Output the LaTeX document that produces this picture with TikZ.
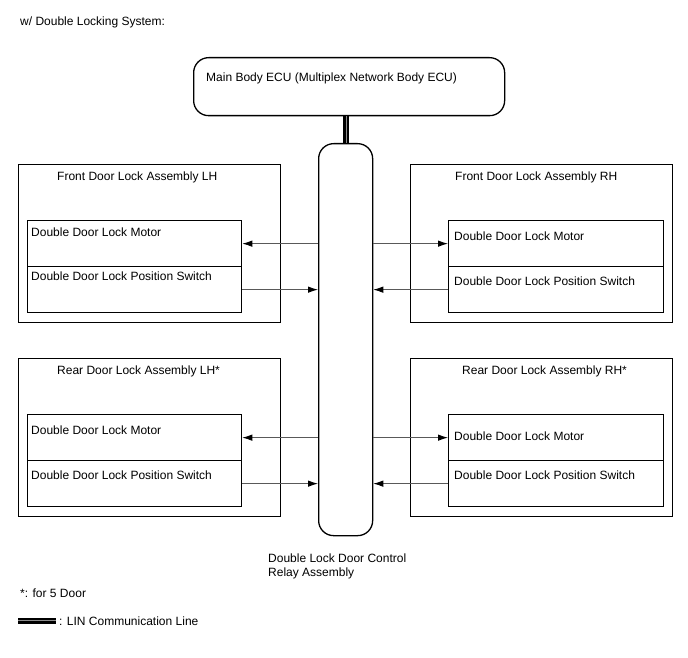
\documentclass[tikz,border=0pt]{standalone}
\usepackage{fontspec}
\setmainfont{Liberation Sans}
\usetikzlibrary{arrows.meta}
\begin{document}
\begin{tikzpicture}[x=1pt,y=-1pt,
  every node/.style={font=\fontsize{12}{14}\selectfont, inner sep=0pt},
  box/.style={draw=black, line width=1.3pt, anchor=north west, rectangle},
  outerbox/.style={box, minimum width=262pt, minimum height=158pt},
  innerbox/.style={box, minimum height=46pt},
  txt/.style={anchor=base west, align=left},
  arr/.style={draw=black!65, line width=0.9pt, -{Latex[length=10pt,width=6.5pt,black]}},
  rbox/.style={draw=black, line width=1.3pt, rounded corners=15pt, anchor=north west}
]
\useasboundingbox (0,0) rectangle (688,658);
\fill[white] (0,0) rectangle (688,658);

\node[txt] (title) at (20,26) {w/ Double Locking System:};

% ECU
\node[rbox, minimum width=311pt, minimum height=58pt] (ecu) at (193,57) {};
\node[txt] (ecut) at (206,82) {Main Body ECU (Multiplex Network Body ECU)};

% Relay
\node[rbox, minimum width=54pt, minimum height=392pt] (relay) at (318,143) {};
\node[anchor=north west, align=left] (relayt) at (268,554) {Double Lock Door Control\\Relay Assembly};

% LIN line
\draw[line width=6pt, black] (relay.north |- ecu.south) -- (relay.north);
\draw[line width=1pt, black!45] ([xshift=0.8pt]relay.north |- ecu.south) -- ([xshift=0.8pt]relay.north);

% Front LH
\node[outerbox] (flh) at (18,164) {};
\node[txt] (flht) at (57,180) {Front Door Lock Assembly LH};
\node[innerbox, minimum width=214pt] (flhm) at (27,220) {};
\node[innerbox, minimum width=214pt] (flhs) at (27,266) {};
\node[txt] (flhmt) at (31,236) {Double Door Lock Motor};
\node[txt] (flhst) at (31,280) {Double Door Lock Position Switch};

% Front RH
\node[outerbox] (frh) at (410,164) {};
\node[txt] (frht) at (455,180) {Front Door Lock Assembly RH};
\node[innerbox, minimum width=215pt] (frhm) at (448,220) {};
\node[innerbox, minimum width=215pt] (frhs) at (448,266) {};
\node[txt] (frhmt) at (454,240) {Double Door Lock Motor};
\node[txt] (frhst) at (454,285) {Double Door Lock Position Switch};

% Rear LH
\node[outerbox] (rlh) at (18,358) {};
\node[txt] (rlht) at (57,374) {Rear Door Lock Assembly LH*};
\node[innerbox, minimum width=214pt] (rlhm) at (27,414) {};
\node[innerbox, minimum width=214pt] (rlhs) at (27,460) {};
\node[txt] (rlhmt) at (31,434) {Double Door Lock Motor};
\node[txt] (rlhst) at (31,479) {Double Door Lock Position Switch};

% Rear RH
\node[outerbox] (rrh) at (410,358) {};
\node[txt] (rrht) at (462,374) {Rear Door Lock Assembly RH*};
\node[innerbox, minimum width=215pt] (rrhm) at (448,414) {};
\node[innerbox, minimum width=215pt] (rrhs) at (448,460) {};
\node[txt] (rrhmt) at (454,440) {Double Door Lock Motor};
\node[txt] (rrhst) at (454,479) {Double Door Lock Position Switch};

% Arrows
\draw[arr] (relay.west |- flhm.east) -- (flhm.east);
\draw[arr] (flhs.east) -- (relay.west |- flhs.east);
\draw[arr] (relay.east |- frhm.west) -- (frhm.west);
\draw[arr] (frhs.west) -- (relay.east |- frhs.west);
\draw[arr] (relay.west |- rlhm.east) -- (rlhm.east);
\draw[arr] (rlhs.east) -- (relay.west |- rlhs.east);
\draw[arr] (relay.east |- rrhm.west) -- (rrhm.west);
\draw[arr] (rrhs.west) -- (relay.east |- rrhs.west);

% Legend
\node[txt] (note) at (20,597) {*: for 5 Door};
\coordinate (l1) at (18,621);
\coordinate (l2) at (56,621);
\draw[line width=6pt, black] (l1) -- (l2);
\draw[line width=1pt, black!45] ([yshift=0.8pt]l1) -- ([yshift=0.8pt]l2);
\node[txt] (legt) at (59,625) {: LIN Communication Line};
\end{tikzpicture}
\end{document}
